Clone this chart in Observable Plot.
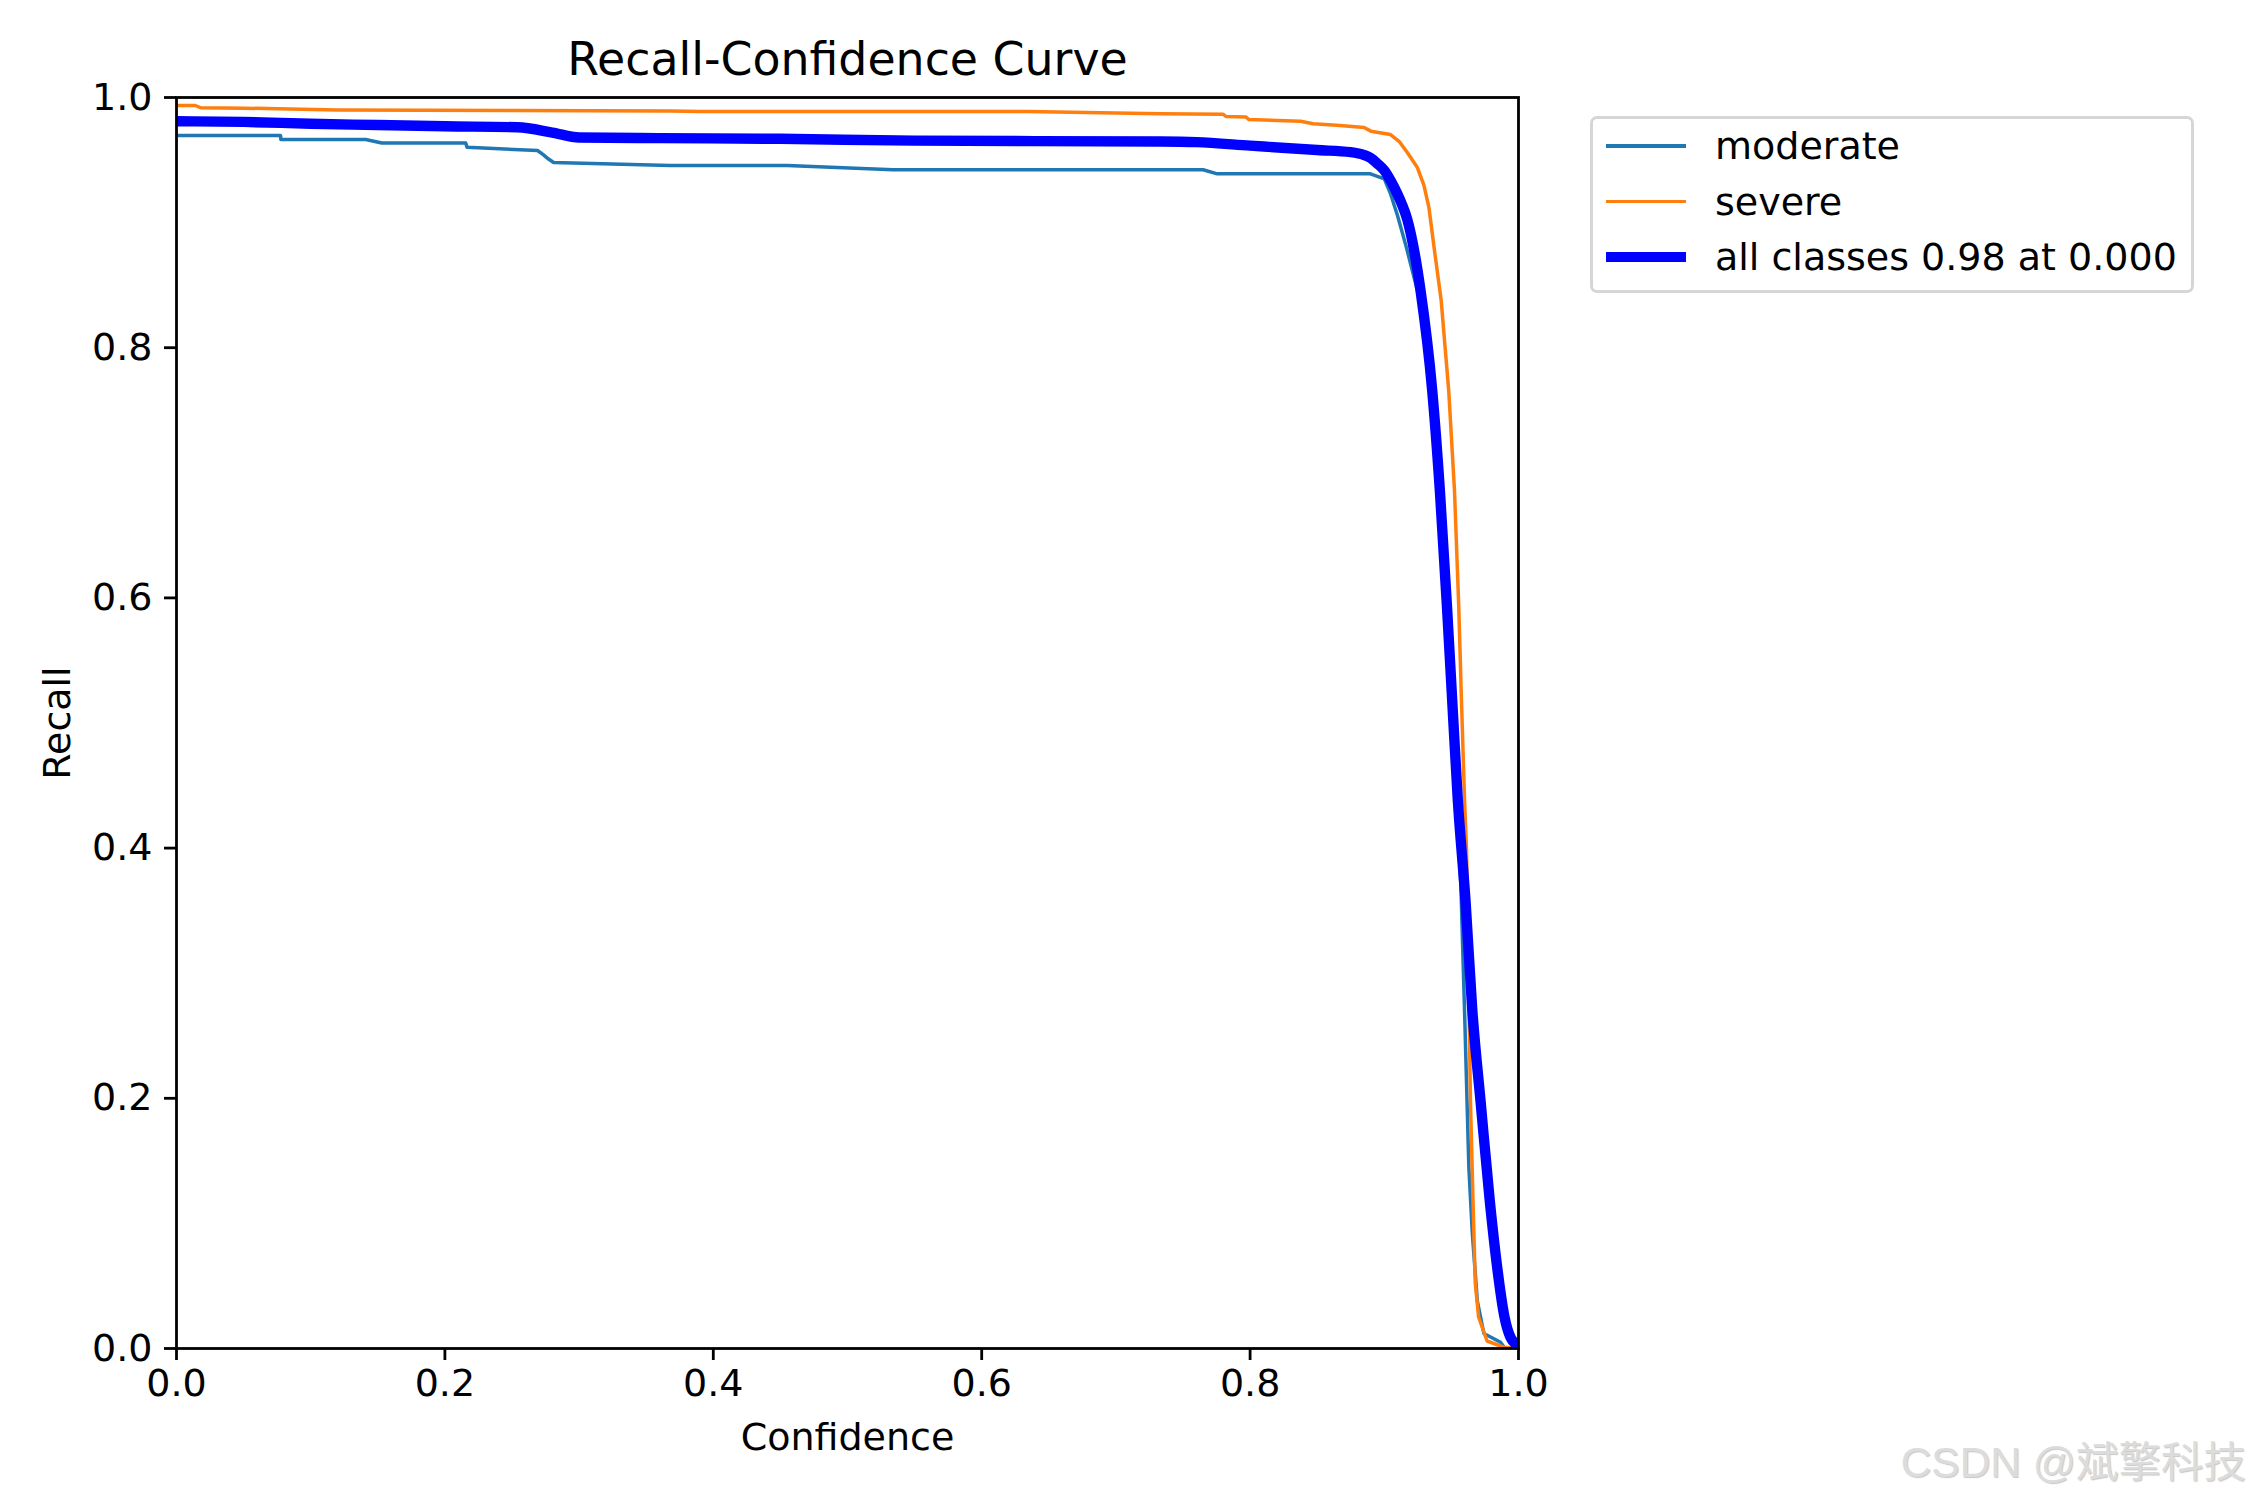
<!DOCTYPE html>
<html>
<head>
<meta charset="utf-8">
<script src="https://cdn.jsdelivr.net/npm/d3@7"></script>
<script src="https://cdn.jsdelivr.net/npm/@observablehq/plot@0.6"></script>
<style>
  html, body { margin: 0; padding: 0; background: white; overflow: hidden; }
  #wrap { position: relative; width: 2250px; height: 1500px; font-family: "DejaVu Sans", sans-serif; }
  #legend { position: absolute; left: 1590px; top: 116px; width: 598px; height: 171px;
            border: 3px solid #d6d6d6; border-radius: 7px; background: rgba(255,255,255,0.8); box-sizing: content-box; }
  .row { position: absolute; left: 0; height: 40px; }
  .sw { position: absolute; left: 13px; width: 80px; }
  .lbl { position: absolute; left: 122px; top: 0; font-size: 38px; white-space: nowrap; color: black; line-height: 40px; }
  #wm { position: absolute; right: 4px; top: 1428px; font-family: "Liberation Sans", "Noto Sans CJK SC", sans-serif;
        font-size: 42.5px; color: #dcdcdc; text-shadow: 1px 1px 1px rgba(0,0,0,0.22); white-space: nowrap; }
</style>
</head>
<body>
<div id="wrap"></div>
<script>
// ---- data ----
const seriesNames = ["moderate", "severe", "all classes 0.98 at 0.000"];
const seriesColors = ["#1f77b4", "#ff7f0e", "#0000ff"];

const moderateConf = [0, 0.0775, 0.0778, 0.141, 0.153, 0.2155, 0.2165, 0.269, 0.273, 0.277, 0.281, 0.368, 0.455, 0.534, 0.765, 0.7755, 0.8897, 0.90, 0.9046, 0.910, 0.9165, 0.926, 0.9352, 0.941, 0.9462, 0.9502, 0.954, 0.957, 0.9598, 0.963, 0.9656, 0.9693, 0.9742, 0.9866, 0.99, 1.0];
const moderateRecall = [0.9696, 0.9696, 0.9664, 0.9664, 0.9636, 0.9636, 0.9603, 0.9576, 0.9545, 0.951, 0.948, 0.9456, 0.9456, 0.9422, 0.9422, 0.939, 0.939, 0.935, 0.9233, 0.905, 0.88, 0.84, 0.76, 0.68, 0.59, 0.51, 0.43, 0.372, 0.27, 0.145, 0.092, 0.038, 0.012, 0.005, 0.0, 0.0];

const severeConf = [0, 0.014, 0.018, 0.05, 0.12, 0.25, 0.368, 0.39, 0.634, 0.733, 0.780, 0.782, 0.797, 0.799, 0.8376, 0.847, 0.867, 0.885, 0.890, 0.9046, 0.911, 0.917, 0.9245, 0.9295, 0.9332, 0.9374, 0.9424, 0.948, 0.9523, 0.9555, 0.9575, 0.9598, 0.9613, 0.9628, 0.9642, 0.9661, 0.9678, 0.9703, 0.9766, 0.989, 1.0];
const severeRecall = [0.9936, 0.9936, 0.9918, 0.9915, 0.990, 0.9896, 0.9893, 0.9888, 0.9888, 0.987, 0.9866, 0.9848, 0.9845, 0.9824, 0.981, 0.979, 0.9776, 0.976, 0.9731, 0.9704, 0.965, 0.9563, 0.9443, 0.930, 0.9124, 0.8777, 0.8377, 0.7658, 0.6859, 0.5926, 0.518, 0.438, 0.398, 0.30, 0.198, 0.118, 0.052, 0.025, 0.006, 0.001, 0.0];

const allConf = [0, 0.05, 0.1, 0.15, 0.2, 0.254, 0.28, 0.30, 0.36, 0.45, 0.55, 0.733, 0.76, 0.80, 0.85, 0.875, 0.885, 0.89, 0.895, 0.900, 0.905, 0.9096, 0.913, 0.917, 0.927, 0.9357, 0.9414, 0.9466, 0.9506, 0.9548, 0.9605, 0.9656, 0.9717, 0.9786, 0.9841, 0.9896, 0.994, 1.0];
const allRecall = [0.981, 0.9805, 0.979, 0.978, 0.977, 0.9762, 0.972, 0.968, 0.9675, 0.967, 0.9655, 0.9648, 0.9643, 0.9615, 0.958, 0.9563, 0.954, 0.9515, 0.947, 0.9417, 0.933, 0.9233, 0.915, 0.903, 0.8457, 0.7658, 0.6859, 0.595, 0.518, 0.438, 0.358, 0.27, 0.198, 0.118, 0.065, 0.025, 0.009, 0.002];

const xTicks = [0, 0.2, 0.4, 0.6, 0.8, 1.0];
const yTicks = [0, 0.2, 0.4, 0.6, 0.8, 1.0];
const titleText = "Recall-Confidence Curve";
const xLabel = "Confidence";
const yLabel = "Recall";
const watermark = "CSDN @斌擎科技";

// ---- build tables ----
const toRows = (xs, ys) => xs.map((c, i) => ({conf: c, recall: ys[i]}));
const moderate = toRows(moderateConf, moderateRecall);
const severe = toRows(severeConf, severeRecall);
const all = toRows(allConf, allRecall);

const chart = Plot.plot({
  width: 2250,
  height: 1500,
  marginLeft: 176,
  marginRight: 732,
  marginTop: 97,
  marginBottom: 152,
  style: {fontFamily: "DejaVu Sans, sans-serif", fontSize: "38px", background: "white", color: "black"},
  x: {domain: [0, 1]},
  y: {domain: [0, 1]},
  marks: [
    Plot.line(moderate, {x: "conf", y: "recall", stroke: seriesColors[0], strokeWidth: 3.5, clip: true}),
    Plot.line(severe, {x: "conf", y: "recall", stroke: seriesColors[1], strokeWidth: 3.5, clip: true}),
    Plot.line(all, {x: "conf", y: "recall", stroke: seriesColors[2], strokeWidth: 10.4, curve: "monotone-x", clip: true}),
    Plot.frame({stroke: "black", strokeWidth: 2.8}),
    Plot.axisX({ticks: xTicks, tickFormat: d3.format(".1f"), tickSize: 12, tickPadding: 9, strokeWidth: 2.8, label: null, fontSize: 38}),
    Plot.axisY({ticks: yTicks, tickFormat: d3.format(".1f"), tickSize: 12, tickPadding: 12, strokeWidth: 2.8, label: null, fontSize: 38}),
    Plot.text([titleText], {frameAnchor: "top", lineAnchor: "middle", dy: -37, text: d => d, fontSize: 45.8}),
    Plot.text([xLabel], {frameAnchor: "bottom", lineAnchor: "middle", dy: 89, text: d => d, fontSize: 38}),
    Plot.text([yLabel], {frameAnchor: "left", textAnchor: "middle", lineAnchor: "middle", dx: -119, rotate: -90, text: d => d, fontSize: 38})
  ]
});

const wrap = document.getElementById("wrap");
wrap.appendChild(chart);

// legend
const legend = document.createElement("div");
legend.id = "legend";
const widths = [3.5, 3.5, 10.4];
seriesNames.forEach((name, i) => {
  const row = document.createElement("div");
  row.className = "row";
  row.style.top = (7 + i * 55.5) + "px";
  row.style.width = "100%";
  const sw = document.createElement("div");
  sw.className = "sw";
  sw.style.height = widths[i] + "px";
  sw.style.background = seriesColors[i];
  sw.style.top = (20 - widths[i] / 2) + "px";
  const lbl = document.createElement("div");
  lbl.className = "lbl";
  lbl.textContent = name;
  row.appendChild(sw);
  row.appendChild(lbl);
  legend.appendChild(row);
});
wrap.appendChild(legend);

const wm = document.createElement("div");
wm.id = "wm";
wm.textContent = watermark;
wrap.appendChild(wm);
</script>
</body>
</html>
